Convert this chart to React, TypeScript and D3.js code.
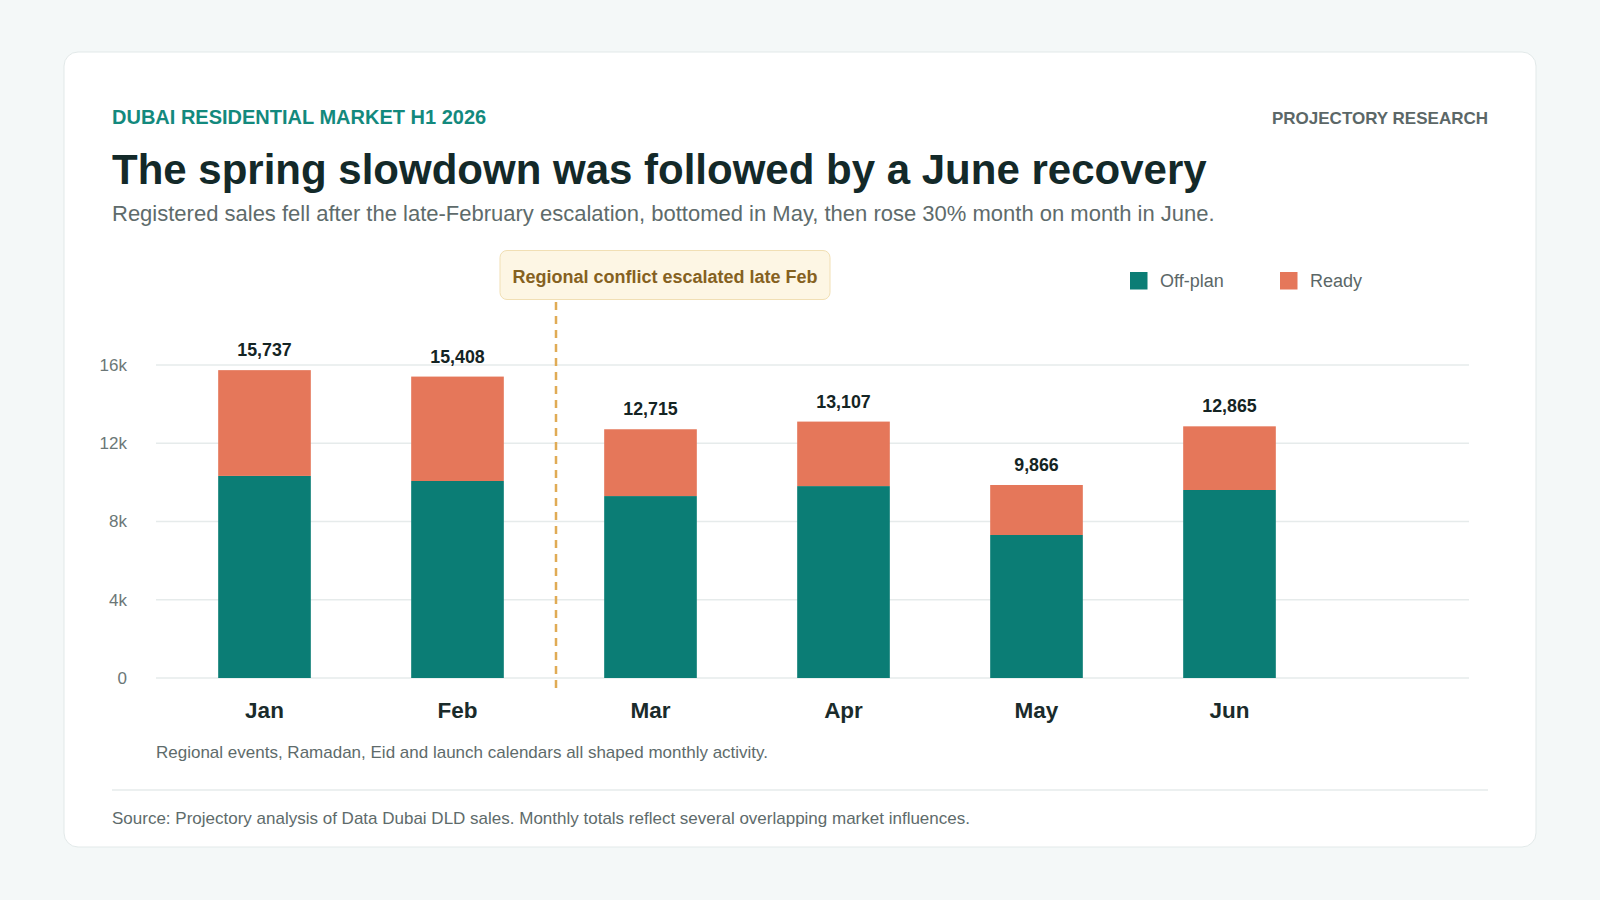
import React from 'react';
import * as d3 from 'd3';

const MONTHS = ['Jan', 'Feb', 'Mar', 'Apr', 'May', 'Jun'];
const OFF_PLAN = [10330, 10070, 9300, 9810, 7310, 9610];
const READY = [5407, 5338, 3415, 3297, 2556, 3255];
const TOTALS = [15737, 15408, 12715, 13107, 9866, 12865];
const Y_TICKS = [0, 4000, 8000, 12000, 16000];
const SERIES = ['Off-plan', 'Ready'];

const COLORS = ['#0b7d75', '#e5775a'];
const FONT = '"Liberation Sans", Arial, Helvetica, sans-serif';

const W = 1600;
const H = 900;

const App = () => {
  const rows = MONTHS.map((m, i) => ({ month: m, offplan: OFF_PLAN[i], ready: READY[i] }));
  const stacked = d3.stack<any>().keys(['offplan', 'ready'])(rows);

  const x = d3.scaleBand().domain(MONTHS).range([168, 1326]).paddingInner(0.52).paddingOuter(0.26);
  const y = d3.scaleLinear().domain([0, 16000]).range([678, 365]);
  const fmtTick = (v: number) => (v === 0 ? '0' : `${v / 1000}k`);
  const fmt = d3.format(',');

  // marker sits just right of the gap between Feb and Mar
  const eventX = ((x('Feb') as number) + x.bandwidth() + (x('Mar') as number)) / 2 + 2;

  return (
    <svg width={W} height={H} style={{ position: 'absolute', left: 0, top: 0 }} fontFamily={FONT}>
      <rect width={W} height={H} fill="#f4f8f8" />
      <rect x={64} y={52} width={1472} height={795} rx={14} fill="#ffffff" stroke="#e2e9e9" />

      <text x={112} y={124} fontSize={20} fontWeight={700} fill="#13897d">
        DUBAI RESIDENTIAL MARKET H1 2026
      </text>
      <text x={1488} y={124} fontSize={17} fontWeight={700} fill="#5b6767" textAnchor="end">
        PROJECTORY RESEARCH
      </text>
      <text x={112} y={184} fontSize={42} fontWeight={700} fill="#132929">
        The spring slowdown was followed by a June recovery
      </text>
      <text x={112} y={221} fontSize={22} fill="#5e6b6b">
        Registered sales fell after the late-February escalation, bottomed in May, then rose 30% month on month in June.
      </text>

      {/* grid + y ticks */}
      <g>
        {Y_TICKS.map(t => (
          <g key={t}>
            <line x1={156} x2={1469} y1={y(t)} y2={y(t)} stroke="#e6ebeb" strokeWidth={1.5} />
            <text x={127} y={y(t)} dy="0.35em" fontSize={17} fill="#6b7777" textAnchor="end">
              {fmtTick(t)}
            </text>
          </g>
        ))}
      </g>

      {/* stacked bars */}
      {stacked.map((layer, si) => (
        <g key={layer.key} fill={COLORS[si]}>
          {layer.map((d, i) => (
            <rect
              key={MONTHS[i]}
              x={x(MONTHS[i])}
              y={y(d[1])}
              width={x.bandwidth()}
              height={y(d[0]) - y(d[1])}
            />
          ))}
        </g>
      ))}

      {/* totals */}
      {MONTHS.map((m, i) => (
        <text
          key={m}
          x={(x(m) as number) + x.bandwidth() / 2}
          y={y(TOTALS[i]) - 14}
          fontSize={17.8}
          fontWeight={700}
          fill="#142424"
          textAnchor="middle"
        >
          {fmt(TOTALS[i])}
        </text>
      ))}

      {/* month labels */}
      {MONTHS.map(m => (
        <text
          key={m}
          x={(x(m) as number) + x.bandwidth() / 2}
          y={718}
          fontSize={22.5}
          fontWeight={700}
          fill="#1a2b2b"
          textAnchor="middle"
        >
          {m}
        </text>
      ))}

      {/* event marker */}
      <line x1={eventX} x2={eventX} y1={302} y2={690} stroke="#e0ab55" strokeWidth={2.5} strokeDasharray="8 6" />
      <rect x={500} y={250.5} width={330} height={49} rx={7} fill="#fdf6e4" stroke="#f1dfb4" />
      <text x={665} y={283} fontSize={18} fontWeight={700} fill="#85611f" textAnchor="middle">
        Regional conflict escalated late Feb
      </text>

      {/* legend */}
      {SERIES.map((s, i) => (
        <g key={s} transform={`translate(${1130 + i * 150},272)`}>
          <rect width={17.5} height={17.5} fill={COLORS[i]} />
          <text x={30} y={9} dy="0.35em" fontSize={18} fill="#5b6767">
            {s}
          </text>
        </g>
      ))}

      <text x={156} y={758} fontSize={17} fill="#5e6b6b">
        Regional events, Ramadan, Eid and launch calendars all shaped monthly activity.
      </text>
      <line x1={112} x2={1488} y1={790} y2={790} stroke="#e6ebeb" strokeWidth={1.5} />
      <text x={112} y={824} fontSize={17} fill="#5e6b6b">
        Source: Projectory analysis of Data Dubai DLD sales. Monthly totals reflect several overlapping market influences.
      </text>
    </svg>
  );
};

export default App;
